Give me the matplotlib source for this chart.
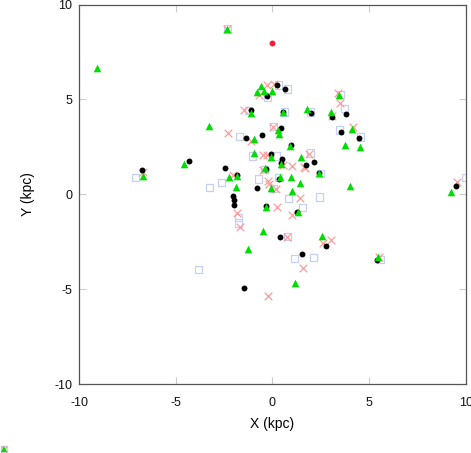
import matplotlib
matplotlib.use("Agg")
import matplotlib.pyplot as plt

plt.rcParams['font.family'] = ['Liberation Sans', 'DejaVu Sans']

# Series: hollow light-blue squares
sq_x = [-7.10, -2.34, 0.29, 0.76, -0.27, -1.26, 0.61, -1.72, 0.04, -1.05, -0.43, 0.19,
        0.29, -0.74, -2.65, -3.27, 0.81, 1.95, 1.95, 3.71, 3.45, 4.54, 3.50, 2.42,
        1.54, 2.47, 9.97, -1.77, -1.77, -3.84, 1.12, 0.04, 0.76, 2.11, 5.57]
sq_y = [0.91, 8.71, 5.76, 5.55, 5.13, 4.44, 4.34, 3.07, 3.55, 2.02, 1.33, 2.02,
        0.91, 0.81, 0.60, 0.38, -0.20, 2.18, 4.34, 4.50, 3.39, 3.02, 5.28, -0.14,
        -0.67, 1.12, 0.91, -1.20, -1.51, -3.94, -3.36, 0.33, -2.20, -3.31, -3.41]

# Series: pink crosses
cr_x = [-0.27, 0.09, -0.69, -1.46, -2.29, -1.10, 0.04, -0.48, -0.27, -0.48, -0.22, 0.19,
        0.24, -1.83, -2.03, 0.55, 1.02, 1.69, 3.40, 3.50, 3.09, 4.17, 1.90, 1.64,
        1.43, 1.02, -1.67, 0.76, -0.22, 1.59, 2.62, 3.04, 5.52, 9.56, -6.69, -2.34, -0.17]
cr_y = [5.76, 5.81, 5.23, 4.44, 3.23, 2.81, 3.55, 2.07, 2.07, 1.28, 0.70, 0.28,
        -0.67, -0.99, 1.02, 1.54, 1.49, 1.39, 5.34, 4.81, 4.13, 3.55, 2.12, 1.44,
        -0.20, -1.09, -1.72, -2.25, -5.36, -3.89, -2.57, -2.41, -3.31, 0.65, 1.18, 8.71, 0.54]

# Series: black circles
bk_x = [0.24, 0.66, -0.27, -1.10, 0.55, 2.00, 3.09, 3.81, 3.55, 4.49, 0.45, -1.36,
        -0.53, -2.45, -4.31, -6.74, -0.07, 0.50, 0.45, -0.33, 0.35, -0.79, -2.03, -1.98,
        -1.98, -0.33, 1.28, 0.97, -1.83, 1.74, 2.16, 2.42, 0.40, -1.46, 1.54, 2.78,
        5.42, 9.50]
bk_y = [5.76, 5.55, 5.18, 4.44, 4.34, 4.29, 4.07, 4.23, 3.28, 2.97, 3.49, 2.97,
        3.13, 1.39, 1.76, 1.28, 2.12, 1.86, 1.65, 1.33, 0.81, 0.33, -0.09, -0.30,
        -0.56, -0.62, -0.93, 2.60, 1.02, 1.54, 1.70, 1.12, -2.25, -4.94, -3.15, -2.73,
        -3.46, 0.44]

# Series: green triangles
gr_x = [-9.07, -6.69, -2.34, -0.58, -0.79, -0.43, -0.02, -1.10, 0.55, 1.80, -3.27, 0.29,
        0.35, -0.95, 0.92, 1.48, -0.95, -0.07, 0.45, -0.38, -1.83, -2.24, -1.88, -0.07,
        0.40, 0.97, 1.43, 1.02, 2.42, 3.76, 4.54, 4.02, 1.33, 3.45, 3.04, 4.12,
        -0.48, -1.26, 1.17, 2.57, 5.47, 9.24, -0.33, -4.57]
gr_y = [6.66, 0.96, 8.71, 5.71, 5.39, 5.45, 5.45, 4.29, 4.34, 4.50, 3.60, 3.39,
        3.18, 2.92, 2.55, 1.97, 2.18, 1.97, 1.60, 1.39, 0.96, 0.91, 0.38, 0.33,
        0.91, 0.91, 0.60, 0.17, 1.12, 2.60, 2.49, 0.44, -0.93, 5.23, 4.34, 3.44,
        -1.93, -2.88, -4.68, -2.20, -3.31, 0.12, -0.67, 1.60]

# Series: single red point
rd_x = [0.0]
rd_y = [7.95]

ticks = [-10, -5, 0, 5, 10]

fig = plt.figure(figsize=(4.71, 4.53), dpi=100)
ax = fig.add_axes([0.168, 0.152, 0.821, 0.838])

ax.scatter(sq_x, sq_y, marker='s', s=26, facecolors='none', edgecolors='#c5d0f5', linewidths=0.9, zorder=2)
ax.scatter(cr_x, cr_y, marker='x', s=30, c='#ff9a9a', linewidths=0.9, zorder=3)
ax.scatter(bk_x, bk_y, marker='o', s=18, c='black', linewidths=0, zorder=4)
ax.scatter(gr_x, gr_y, marker='^', s=30, c='#00dd00', linewidths=0, zorder=5)
ax.scatter(rd_x, rd_y, marker='o', s=18, c='#ff1a3c', linewidths=0, zorder=6)

ax.set_xlim(-10, 10)
ax.set_ylim(-10, 10)
ax.set_xticks(ticks)
ax.set_yticks(ticks)
ax.set_xticklabels([str(t) for t in ticks])
ax.set_yticklabels([str(t) for t in ticks])
ax.tick_params(direction='in', length=5, width=0.8, color='#cccccc', labelsize=9,
               top=True, right=True, labelcolor='#111111')
ax.tick_params(axis='x', pad=9)
ax.tick_params(axis='y', pad=5)
for sp in ax.spines.values():
    sp.set_color('#555555')
    sp.set_linewidth(0.9)
ax.set_xlabel('X (kpc)', fontsize=10, labelpad=6)
ax.set_ylabel('Y (kpc)', fontsize=10, labelpad=14)

# tiny stacked legend-like icon in the bottom-left corner
lx, ly = 3.5 / 471, 1 - 449 / 453
fig.add_artist(plt.Line2D([lx], [ly], marker='s', markersize=4, markerfacecolor='none',
                          markeredgecolor='#c5d0f5', transform=fig.transFigure))
fig.add_artist(plt.Line2D([lx], [ly], marker='x', markersize=4, color='#ff9a9a',
                          transform=fig.transFigure))
fig.add_artist(plt.Line2D([lx], [ly], marker='^', markersize=4, color='#00dd00',
                          markeredgewidth=0, transform=fig.transFigure))

fig.savefig('out.png', dpi=100, facecolor='white')
